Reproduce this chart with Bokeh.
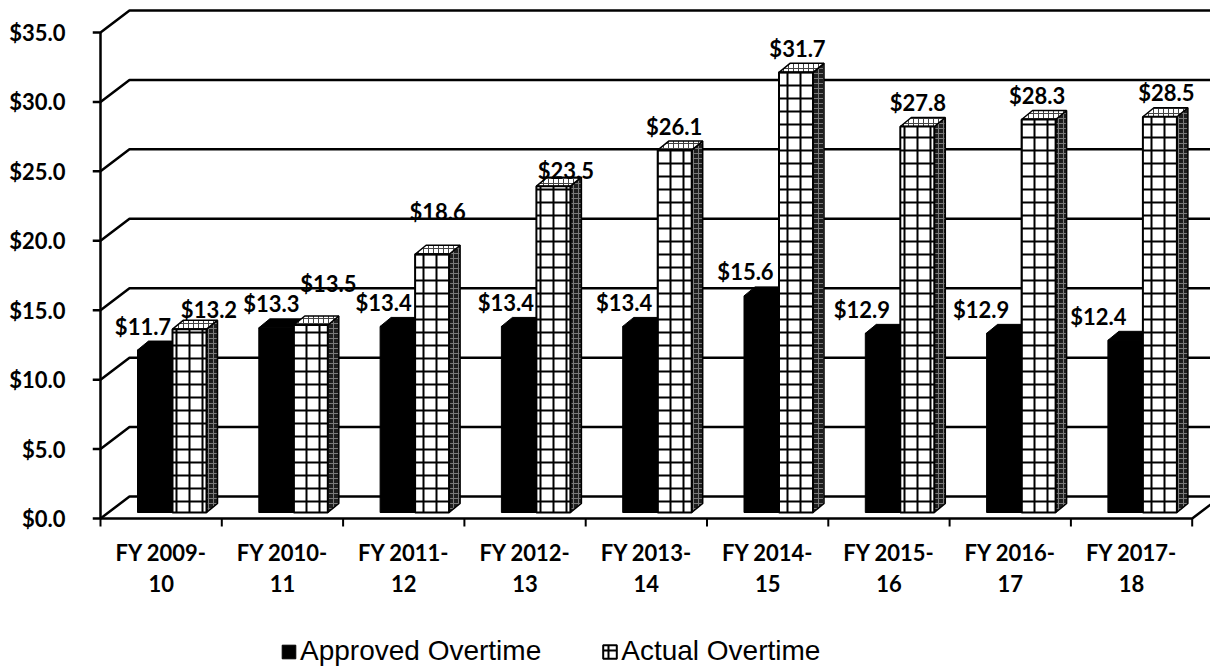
from bokeh.plotting import figure
from bokeh.models import (ColumnDataSource, Range1d, FixedTicker, NumeralTickFormatter,
                          Legend, LegendItem)
from bokeh.embed import file_html
from bokeh.resources import INLINE
from bokeh.core.properties import value

# ---------------- data ----------------
categories = ["FY 2009-10", "FY 2010-11", "FY 2011-12", "FY 2012-13", "FY 2013-14",
              "FY 2014-15", "FY 2015-16", "FY 2016-17", "FY 2017-18"]
x_tick_labels = ["FY 2009-\n10", "FY 2010-\n11", "FY 2011-\n12", "FY 2012-\n13", "FY 2013-\n14",
                 "FY 2014-\n15", "FY 2015-\n16", "FY 2016-\n17", "FY 2017-\n18"]
approved = [11.7, 13.3, 13.4, 13.4, 13.4, 15.6, 12.9, 12.9, 12.4]
actual = [13.2, 13.5, 18.6, 23.5, 26.1, 31.7, 27.8, 28.3, 28.5]
y_ticks = [0, 5, 10, 15, 20, 25, 30, 35]

# ---------------- layout constants (screen px) ----------------
PX_X = 121.3      # px per category
PX_Y = 13.886     # px per dollar
def ux(px):
    return px / PX_X
def uy(px):
    return px / PX_Y

DEPTH_X, DEPTH_Y = 29, 22          # back-wall offset
BAR_DX, BAR_DY = 11, 9             # bar depth
BASE = uy(6)                       # bar base above front floor
# label nudges (px, screen, + = up / right) to mimic Excel's placement
act_lift = [-4, 18, 19, -8, 0, 0, 0, 0, 0]
act_shift = [14, 12, 0, 7, -6, -4, -5, -7, 1]
app_shift = [-12, -5, -14, -13, -16, -16, -21, -23, -27]

n = len(categories)
blk_l = [i + ux(37) for i in range(n)]
blk_r = [i + ux(72) for i in range(n)]
hat_l = [i + ux(72) for i in range(n)]
hat_r = [i + ux(106) for i in range(n)]
blk_t = [BASE + v for v in approved]
hat_t = [BASE + v for v in actual]

# frame spans the whole height; the $0 floor sits 518 px from the top
p = figure(frame_width=1118, frame_height=668, output_backend="svg", toolbar_location=None,
           x_range=Range1d(ux(-8), ux(1110)), y_range=Range1d(uy(-150), uy(518)),
           min_border_left=92, min_border_right=0, min_border_top=0, min_border_bottom=0,
           background_fill_color="white", border_fill_color="white", outline_line_color=None)
p.grid.visible = False
p.xaxis.visible = False

# ---------------- walls / gridlines ----------------
gx, gy = [], []
for t in y_ticks:
    gx.append([ux(-8), 0, ux(DEPTH_X), ux(1300)])
    gy.append([t, t, t + uy(DEPTH_Y), t + uy(DEPTH_Y)])
p.multi_line(gx, gy, line_color="black", line_width=2.5)
# front floor edge with right-side diagonal, and the front vertical axis line
p.line([0, n, n + ux(DEPTH_X)], [0, 0, uy(DEPTH_Y)], line_color="black", line_width=2.5)
p.segment(x0=[0], y0=[0], x1=[0], y1=[y_ticks[-1]], line_color="black", line_width=2.5)
# category boundary ticks
p.segment(x0=list(range(n + 1)), y0=[0] * (n + 1), x1=list(range(n + 1)),
          y1=[uy(-8)] * (n + 1), line_color="black", line_width=2)

# ---------------- bars ----------------
dx, dy = ux(BAR_DX), uy(BAR_DY)
# black bars (front + top)
blk_top_xs = [[l, r, r + dx, l + dx] for l, r in zip(blk_l, blk_r)]
blk_top_ys = [[t, t, t + dy, t + dy] for t in blk_t]
p.patches(blk_top_xs, blk_top_ys, fill_color="black", line_color="black", line_width=1)
blk = p.quad(left=blk_l, right=blk_r, bottom=[BASE] * n, top=blk_t,
             fill_color="black", line_color="black", line_width=1)

# gridded bars: side, top, front
side_xs = [[r, r + dx, r + dx, r] for r in hat_r]
side_ys = [[BASE, BASE + dy, t + dy, t] for t in hat_t]
p.patches(side_xs, side_ys, fill_color="#1e1e1e", line_color="black", line_width=1.5,
          hatch_pattern="+", hatch_color="#7a7a7a", hatch_scale=5, hatch_weight=1)
hat_top_xs = [[l, r, r + dx, l + dx] for l, r in zip(hat_l, hat_r)]
hat_top_ys = [[t, t, t + dy, t + dy] for t in hat_t]
p.patches(hat_top_xs, hat_top_ys, fill_color="white", line_color="black", line_width=1.5,
          hatch_pattern="+", hatch_color="#444444", hatch_scale=5, hatch_weight=1)
hat = p.quad(left=hat_l, right=hat_r, bottom=[BASE] * n, top=hat_t,
             fill_color="white", line_color="black", line_width=2,
             hatch_pattern="+", hatch_color="black", hatch_scale=13, hatch_weight=2)

# ---------------- data labels ----------------
lab_src = ColumnDataSource(dict(
    x=[(l + r) / 2 for l, r in zip(blk_l, blk_r)] + [(l + r + dx) / 2 for l, r in zip(hat_l, hat_r)],
    y=blk_t + hat_t,
    text=["$%.1f" % v for v in approved] + ["$%.1f" % v for v in actual],
    xo=app_shift + act_shift,
    yo=[-24] * n + [-24 - a for a in act_lift],
))
p.text(x="x", y="y", text="text", x_offset="xo", y_offset="yo", source=lab_src,
       text_font=value("Lato"), text_font_size="22px", text_font_style="bold",
       text_color="black", text_align="center", text_baseline="middle")

# ---------------- category labels (two lines) ----------------
centers = [i + 0.5 for i in range(n)]
line1 = [s.split("\n")[0] for s in x_tick_labels]
line2 = [s.split("\n")[1] for s in x_tick_labels]
for txt, off in ((line1, -34), (line2, -65)):
    p.text(x=centers, y=[uy(off)] * n, text=txt,
           text_font=value("Lato"), text_font_size="22px", text_font_style="bold",
           text_color="black", text_align="center", text_baseline="middle")

# ---------------- y axis ----------------
p.yaxis.ticker = FixedTicker(ticks=y_ticks)
p.yaxis.formatter = NumeralTickFormatter(format="$0.0")
p.yaxis.axis_line_color = None
p.yaxis.major_tick_line_color = None
p.yaxis.minor_tick_line_color = None
p.yaxis.major_label_standoff = 21
p.yaxis.major_label_text_font = "Lato"
p.yaxis.major_label_text_font_size = "22px"
p.yaxis.major_label_text_font_style = "bold"
p.yaxis.major_label_text_color = "black"

# ---------------- legend ----------------
legend = Legend(items=[LegendItem(label="Approved Overtime", renderers=[blk]),
                       LegendItem(label="Actual Overtime", renderers=[hat])],
                orientation="horizontal", location=(188, 1),
                border_line_color=None, background_fill_alpha=0,
                label_text_font="Liberation Sans", label_text_font_size="28px",
                label_text_color="black",
                glyph_width=17, glyph_height=17, label_standoff=3, spacing=60,
                padding=0, margin=0)
p.add_layout(legend)

open("out.html", "w").write(file_html(p, INLINE))
